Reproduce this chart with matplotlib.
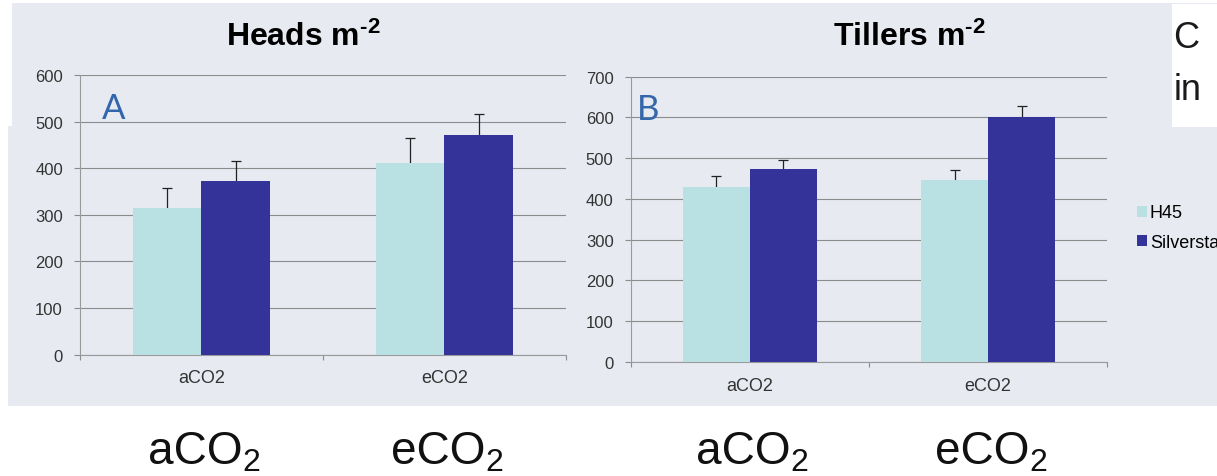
import numpy as np
import matplotlib
matplotlib.use('Agg')
import matplotlib.pyplot as plt
from matplotlib.patches import Rectangle
from matplotlib.transforms import blended_transform_factory, offset_copy

plt.rcParams['font.family'] = ['Liberation Sans', 'DejaVu Sans']
plt.rcParams['mathtext.fontset'] = 'custom'
plt.rcParams['mathtext.rm'] = 'Liberation Sans'
plt.rcParams['mathtext.it'] = 'Liberation Sans:italic'
plt.rcParams['mathtext.bf'] = 'Liberation Sans:bold'

# data
categories = ['aCO2', 'eCO2']
series = ['H45', 'Silverstar']

heads_h45 = [314, 412]
heads_h45_err = [43, 52]
heads_silverstar = [372, 472]
heads_silverstar_err = [43, 45]
heads_ticks = [0, 100, 200, 300, 400, 500, 600]

tillers_h45 = [430, 446]
tillers_h45_err = [27, 25]
tillers_silverstar = [473, 600]
tillers_silverstar_err = [23, 29]
tillers_ticks = [0, 100, 200, 300, 400, 500, 600, 700]

# colours
panel = '#e7eaf1'
light = '#b9e0e3'
dark = '#333399'
grey = '#8c8c8c'
label_col = '#333333'

W, H = 1217, 477
fig = plt.figure(figsize=(W / 100, H / 100), dpi=100)


def box(x0, y0, x1, y1):
    # pixel box (top-left origin) -> figure fraction [l, b, w, h]
    return [x0 / W, 1 - y1 / H, (x1 - x0) / W, (y1 - y0) / H]


# slide background pieces
for x0, y0, x1, y1, c, z in [(12, 4, W, 406.7, panel, -2),
                             (8, 127, 12, 406.7, panel, -2),
                             (1171.7, 5, W, 127.7, 'white', -1)]:
    l, b, w, h = box(x0, y0, x1, y1)
    fig.add_artist(Rectangle((l, b), w, h, transform=fig.transFigure,
                             facecolor=c, edgecolor='none', zorder=z))


def draw(ax, h45, h45_err, silver, silver_err, ticks):
    x = np.arange(len(categories))
    w = 0.282
    ax.bar(x - w / 2, h45, w, color=light, zorder=3, label=series[0])
    ax.bar(x + w / 2, silver, w, color=dark, zorder=3, label=series[1])
    # symmetric bars drawn under the columns -> only the upper half shows
    ax.errorbar(x - w / 2, h45, yerr=h45_err, fmt='none', ecolor='#222222',
                elinewidth=0.9, capsize=3.6, capthick=0.9, zorder=2.5)
    ax.errorbar(x + w / 2, silver, yerr=silver_err, fmt='none', ecolor='#222222',
                elinewidth=0.9, capsize=3.6, capthick=0.9, zorder=2.5)

    ax.set_xlim(-0.5, len(categories) - 0.5)
    ax.set_ylim(0, ticks[-1])
    ax.set_yticks(ticks)
    ax.set_xticks(x, categories)
    ax.set_xticks(np.arange(len(categories) + 1) - 0.5, minor=True)
    ax.tick_params(axis='x', which='major', length=0, pad=10.5,
                   labelsize=13, labelcolor=label_col)
    ax.tick_params(axis='x', which='minor', length=3.6, width=0.8, color=grey)
    ax.tick_params(axis='y', length=4.3, width=0.8, pad=8, color=grey,
                   labelsize=12, labelcolor=label_col)
    ax.grid(axis='y', color=grey, linewidth=0.8)
    ax.set_axisbelow(True)
    for s in ['top', 'right']:
        ax.spines[s].set_visible(False)
    for s in ['left', 'bottom']:
        ax.spines[s].set_color('#9a9a9a')
        ax.spines[s].set_linewidth(0.8)
    ax.set_facecolor('none')

    # big subscripted labels under the panel: "aCO" + lowered "2"
    trans = blended_transform_factory(ax.transData, fig.transFigure)
    for i, cat in enumerate(categories):
        main = ax.text(i, 1 - 464 / H, cat[:-1],
                       transform=offset_copy(trans, fig=fig, x=41, units='dots'),
                       ha='right', va='baseline', fontsize=33, color='#111111')
        ax.annotate(cat[-1], xy=(1, 0), xycoords=main, xytext=(0, 1.8),
                    textcoords='offset points', ha='left', va='baseline',
                    fontsize=23, color='#111111')


ax1 = fig.add_axes(box(80, 76, 565.7, 355.7))
draw(ax1, heads_h45, heads_h45_err, heads_silverstar, heads_silverstar_err, heads_ticks)

ax2 = fig.add_axes(box(630.7, 77.7, 1107.3, 363))
draw(ax2, tillers_h45, tillers_h45_err, tillers_silverstar, tillers_silverstar_err, tillers_ticks)

# titles (hyphen superscript, as on the slide)
sup = '$^{\\mathbf{\u2010' + '2}}$'
fig.text(303.5 / W, 1 - 45.7 / H, 'Heads m' + sup,
         ha='center', va='baseline', fontsize=23, fontweight='bold')
fig.text(909.5 / W, 1 - 45.7 / H, 'Tillers m' + sup,
         ha='center', va='baseline', fontsize=23, fontweight='bold')

# panel letters
fig.text(101.7 / W, 1 - 119.3 / H, 'A', fontsize=25, color='#3366aa',
         family='Lato', va='baseline')
fig.text(636.7 / W, 1 - 120 / H, 'B', fontsize=25, color='#3366aa',
         family='Lato', va='baseline')

# cut-off slide text in the top-right box
fig.text(1173 / W, 1 - 48 / H, 'C', fontsize=26, color='#1a1a1a', va='baseline')
fig.text(1174 / W, 1 - 100 / H, 'in', fontsize=26, color='#1a1a1a', va='baseline')

handles, labels = ax2.get_legend_handles_labels()
fig.legend(handles, labels, loc='upper left', bbox_to_anchor=(1136.7 / W, 1 - 205.5 / H),
           frameon=False, fontsize=13, handlelength=0.55, handleheight=0.55,
           handletextpad=0.18, labelspacing=0.68, borderpad=0, borderaxespad=0)

fig.savefig('out.png', dpi=100)
